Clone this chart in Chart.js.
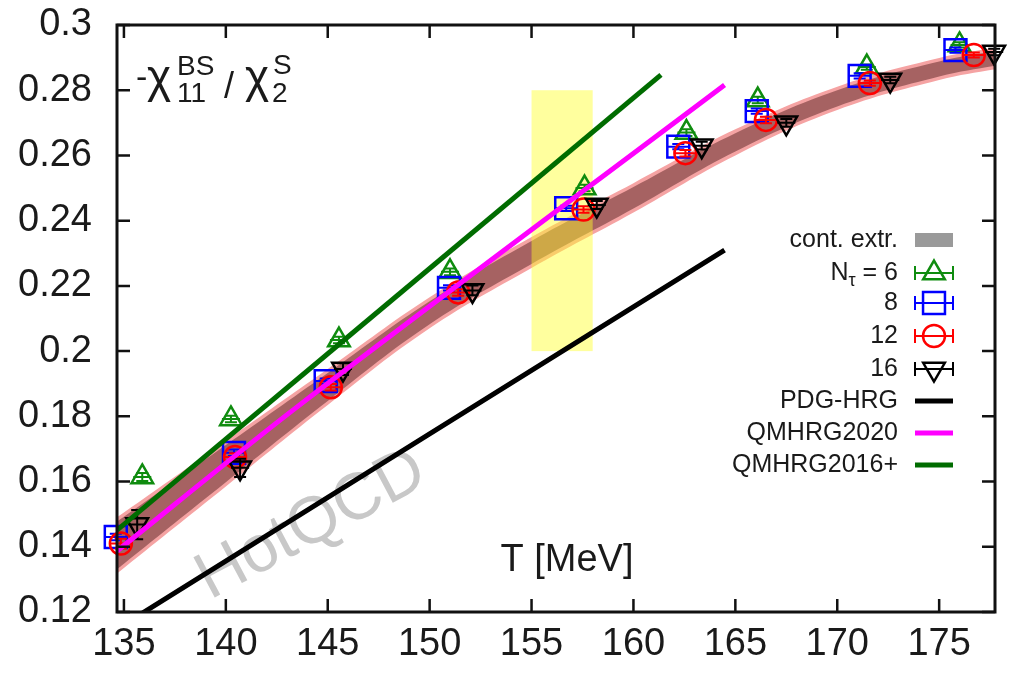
<!DOCTYPE html>
<html lang="en">
<head>
<meta charset="UTF-8">
<title>Baryon-strangeness correlation ratio</title>
<script src="https://cdn.jsdelivr.net/npm/chart.js"></script>
<style>
  html, body { margin: 0; padding: 0; background: #fff; }
  #wrap { width: 1013px; height: 673px; }
</style>
</head>
<body>
<div id="wrap"><canvas id="ratioChart" width="1013" height="673"></canvas></div>
<script>
// lattice results, T in MeV
const nt6T   = [135.9, 140.25, 145.55, 151.0, 157.6, 162.6, 166.1, 171.45, 176.0];
const nt6Y   = [0.1614, 0.1792, 0.2034, 0.2243, 0.2500, 0.2670, 0.2770, 0.2871, 0.2939];
const nt6Err = [0.0012, 0.0010, 0.0010, 0.0010, 0.0010, 0.0010, 0.0010, 0.0008, 0.0008];

const nt8T   = [134.6, 140.4, 144.9, 150.95, 156.7, 162.2, 166.05, 171.1, 175.8];
const nt8Y   = [0.1430, 0.1688, 0.1908, 0.2194, 0.2438, 0.2627, 0.2736, 0.2844, 0.2923];
const nt8Err = [0.0010, 0.0010, 0.0008, 0.0008, 0.0008, 0.0008, 0.0008, 0.0008, 0.0008];

const nt12T   = [134.85, 140.45, 145.15, 151.4, 157.55, 162.55, 166.5, 171.6, 176.7];
const nt12Y   = [0.1410, 0.1675, 0.1889, 0.2180, 0.2434, 0.2607, 0.2709, 0.2822, 0.2908];
const nt12Err = [0.0015, 0.0012, 0.0010, 0.0010, 0.0010, 0.0010, 0.0010, 0.0008, 0.0008];

const nt16T   = [135.65, 140.7, 145.75, 152.1, 158.2, 163.35, 167.5, 172.6, 177.7];
const nt16Y   = [0.1468, 0.1642, 0.1945, 0.2186, 0.2448, 0.2630, 0.2700, 0.2831, 0.2917];
const nt16Err = [0.0045, 0.0028, 0.0018, 0.0015, 0.0012, 0.0012, 0.0012, 0.0010, 0.0010];

// continuum extrapolation band (outer and inner edges)
const bandT       = [134, 135, 140, 145, 150, 155, 160, 165, 170, 175, 178];
const bandOuterHi = [0.1463, 0.1505, 0.1725, 0.1945, 0.2165, 0.2350, 0.2515, 0.2680, 0.2811, 0.2899, 0.2933];
const bandOuterLo = [0.1283, 0.1335, 0.1585, 0.1835, 0.2070, 0.2255, 0.2425, 0.2600, 0.2739, 0.2831, 0.2867];
const bandInnerHi = [0.1450, 0.1492, 0.1712, 0.1933, 0.2153, 0.2338, 0.2503, 0.2668, 0.2800, 0.2888, 0.2922];
const bandInnerLo = [0.1296, 0.1348, 0.1598, 0.1847, 0.2082, 0.2267, 0.2437, 0.2612, 0.2750, 0.2842, 0.2878];

// hadron resonance gas curves
const pdgT  = [134.66, 164.47];
const pdgY  = [0.1148, 0.2310];
const qm20T = [134.66, 143.5, 164.47];
const qm20Y = [0.1387, 0.1829, 0.2816];
const qm16T = [134.66, 161.35];
const qm16Y = [0.1451, 0.2847];

// pseudo-critical region
const tcRangeT = [155, 158];
const tcRangeY = [0.2, 0.28];

const xTicks = [135, 140, 145, 150, 155, 160, 165, 170, 175];
const yTicks = [0.12, 0.14, 0.16, 0.18, 0.2, 0.22, 0.24, 0.26, 0.28, 0.3];

const legendNames = ['cont. extr.', 'N|τ| = 6', '8', '12', '16', 'PDG-HRG', 'QMHRG2020', 'QMHRG2016+'];

const FONT = '"Liberation Sans", Arial, Helvetica, sans-serif';
const GREEN_PT = '#0f8c0f';
const GREEN_LN = '#006c00';

const pts = (xs, ys) => xs.map((x, i) => ({ x: x, y: ys[i] }));

function pointSet(label, xs, ys, errs, color, style, radius, rotation, order) {
    return {
        label: label, data: pts(xs, ys), errors: errs, showLine: false,
        pointStyle: style, pointRadius: radius, pointRotation: rotation || 0,
        pointBorderColor: color, pointBackgroundColor: 'rgba(0,0,0,0)',
        pointBorderWidth: 2.5, borderColor: color, clip: false, order: order
    };
}

function curveSet(label, xs, ys, color, order) {
    return {
        label: label, data: pts(xs, ys), borderColor: color, borderWidth: 5,
        pointRadius: 0, fill: false, tension: 0.3, order: order
    };
}

function edgeSet(xs, ys, fill, color, order) {
    return {
        data: pts(xs, ys), borderWidth: 0, borderColor: 'rgba(0,0,0,0)', pointRadius: 0,
        fill: fill, backgroundColor: color, tension: 0.4, order: order
    };
}

const datasets = [
    edgeSet(bandT, bandOuterHi, false, 'rgba(0,0,0,0)', 20),
    edgeSet(bandT, bandOuterLo, '-1', '#f5a3a3', 20),
    edgeSet(bandT, bandInnerHi, false, 'rgba(0,0,0,0)', 19),
    edgeSet(bandT, bandInnerLo, '-1', '#a66262', 19),
    pointSet('Nt6', nt6T, nt6Y, nt6Err, GREEN_PT, 'triangle', 12.5, 0, 9),
    pointSet('Nt8', nt8T, nt8Y, nt8Err, '#0000ff', 'rect', 15.5, 0, 8),
    pointSet('Nt12', nt12T, nt12Y, nt12Err, '#ff0000', 'circle', 11, 0, 7),
    pointSet('Nt16', nt16T, nt16Y, nt16Err, '#000000', 'triangle', 12.5, 180, 6),
    curveSet('PDG-HRG', pdgT, pdgY, '#000000', 4),
    curveSet('QMHRG2020', qm20T, qm20Y, '#ff00ff', 3),
    curveSet('QMHRG2016+', qm16T, qm16Y, GREEN_LN, 2)
];

// yellow T_c box, drawn over the band but under the points
const tcBoxPlugin = {
    id: 'tcBox',
    beforeDatasetDraw(chart, args) {
        if (chart.data.datasets[args.index].label !== 'Nt6') return;
        const { ctx, scales: { x, y } } = chart;
        const x0 = x.getPixelForValue(tcRangeT[0]), x1 = x.getPixelForValue(tcRangeT[1]);
        const y0 = y.getPixelForValue(tcRangeY[1]), y1 = y.getPixelForValue(tcRangeY[0]);
        ctx.save();
        ctx.fillStyle = 'rgba(255, 255, 40, 0.45)';
        ctx.fillRect(x0, y0, x1 - x0, y1 - y0);
        ctx.restore();
    }
};

// vertical error bars plus the short horizontal bar through each symbol
const errorBarPlugin = {
    id: 'errorBars',
    afterDatasetDraw(chart, args) {
        const ds = chart.data.datasets[args.index];
        if (!ds.errors) return;
        const { ctx, scales: { x, y } } = chart;
        const half = ds.pointStyle === 'triangle' ? 9 : 11;
        ctx.save();
        ctx.strokeStyle = ds.borderColor;
        ctx.lineWidth = 2;
        ds.data.forEach((p, i) => {
            const px = x.getPixelForValue(p.x);
            const py = y.getPixelForValue(p.y);
            const top = y.getPixelForValue(p.y + ds.errors[i]);
            const bot = y.getPixelForValue(p.y - ds.errors[i]);
            ctx.beginPath();
            ctx.moveTo(px, top); ctx.lineTo(px, bot);
            ctx.moveTo(px - 6, top); ctx.lineTo(px + 6, top);
            ctx.moveTo(px - 6, bot); ctx.lineTo(px + 6, bot);
            ctx.moveTo(px - half, py); ctx.lineTo(px + half, py);
            ctx.stroke();
        });
        ctx.restore();
    }
};

// watermark and axis texts inside the frame
const labelsPlugin = {
    id: 'labels',
    beforeDatasetsDraw(chart) {
        const ctx = chart.ctx;
        ctx.save();
        ctx.translate(210, 600);
        ctx.rotate(-28 * Math.PI / 180);
        ctx.fillStyle = '#c8c8c8';
        ctx.font = '66px ' + FONT;
        ctx.textBaseline = 'alphabetic';
        ctx.fillText('HotQCD', 0, 0);
        ctx.restore();

        ctx.save();
        ctx.fillStyle = '#1a1a1a';
        ctx.font = '38px ' + FONT;
        ctx.textAlign = 'center';
        ctx.textBaseline = 'alphabetic';
        ctx.fillText('T [MeV]', 567, 571);
        ctx.restore();
    },
    afterDraw(chart) {
        const ctx = chart.ctx;
        ctx.save();
        ctx.fillStyle = '#1a1a1a';
        ctx.textBaseline = 'alphabetic';
        ctx.textAlign = 'left';
        ctx.font = '34px ' + FONT;
        ctx.fillText('-', 136, 88);
        ctx.font = '46px ' + FONT;
        ctx.fillText('χ', 147, 92);
        ctx.font = '28px ' + FONT;
        ctx.fillText('BS', 177, 75);
        ctx.fillText('11', 177, 102);
        ctx.font = '36px ' + FONT;
        ctx.fillText('/', 224, 98);
        ctx.font = '46px ' + FONT;
        ctx.fillText('χ', 245, 92);
        ctx.font = '28px ' + FONT;
        ctx.fillText('S', 273, 74);
        ctx.fillText('2', 272, 102);
        ctx.restore();
    }
};

// gnuplot style frame with inward ticks on all four sides
const framePlugin = {
    id: 'frame',
    afterDraw(chart) {
        const { ctx, chartArea: a, scales: { x, y } } = chart;
        ctx.save();
        ctx.strokeStyle = '#111';
        ctx.lineWidth = 3;
        ctx.strokeRect(a.left, a.top, a.right - a.left, a.bottom - a.top);
        ctx.lineWidth = 2.5;
        ctx.beginPath();
        xTicks.forEach(v => {
            const px = x.getPixelForValue(v);
            ctx.moveTo(px, a.bottom); ctx.lineTo(px, a.bottom - 13);
            ctx.moveTo(px, a.top); ctx.lineTo(px, a.top + 13);
        });
        yTicks.forEach(v => {
            const py = y.getPixelForValue(v);
            ctx.moveTo(a.left, py); ctx.lineTo(a.left + 13, py);
            ctx.moveTo(a.right, py); ctx.lineTo(a.right - 13, py);
        });
        ctx.stroke();
        ctx.restore();
    }
};

// key on the right: text right-aligned, sample to its right
const keyPlugin = {
    id: 'key',
    afterDraw(chart) {
        const ctx = chart.ctx;
        const rowY = [240, 273, 303, 336, 369, 401, 433, 465];
        const textRight = 898, s0 = 915, s1 = 953, sc = 934;
        const pointSets = chart.data.datasets.filter(d => d.errors);
        const lineSets = chart.data.datasets.filter(d => d.borderWidth === 5);
        ctx.save();
        ctx.fillStyle = '#1a1a1a';
        ctx.textBaseline = 'middle';
        legendNames.forEach((name, i) => {
            const yy = rowY[i];
            // "N|τ| = 6": the part between bars is a subscript
            const parts = name.split('|');
            if (parts.length === 3) {
                ctx.font = '25px ' + FONT;
                const w0 = ctx.measureText(parts[0]).width;
                const w2 = ctx.measureText(parts[2]).width;
                ctx.font = '18px ' + FONT;
                const w1 = ctx.measureText(parts[1]).width;
                const xx = textRight - w0 - w1 - w2;
                ctx.textAlign = 'left';
                ctx.font = '25px ' + FONT;
                ctx.fillText(parts[0], xx, yy);
                ctx.font = '18px ' + FONT;
                ctx.fillText(parts[1], xx + w0, yy + 8);
                ctx.font = '25px ' + FONT;
                ctx.fillText(parts[2], xx + w0 + w1, yy);
            } else {
                ctx.textAlign = 'right';
                ctx.font = '25px ' + FONT;
                ctx.fillText(name, textRight, yy);
            }
        });
        // band sample
        ctx.fillStyle = '#9a9a9a';
        ctx.fillRect(s0, rowY[0] - 7, s1 - s0, 14);
        // symbol samples, hollow like in the plot
        ctx.fillStyle = 'rgba(0,0,0,0)';
        pointSets.forEach((ds, k) => {
            const yy = rowY[1 + k];
            ctx.strokeStyle = ds.borderColor;
            ctx.lineWidth = 2;
            ctx.beginPath();
            ctx.moveTo(s0, yy); ctx.lineTo(s1, yy);
            ctx.moveTo(s0, yy - 7); ctx.lineTo(s0, yy + 7);
            ctx.moveTo(s1, yy - 7); ctx.lineTo(s1, yy + 7);
            ctx.stroke();
            ctx.lineWidth = 2.5;
            Chart.helpers.drawPoint(ctx, {
                pointStyle: ds.pointStyle, radius: ds.pointRadius, rotation: ds.pointRotation,
                borderWidth: 2.5
            }, sc, yy);
        });
        // line samples
        lineSets.forEach((ds, k) => {
            const yy = rowY[5 + k];
            ctx.strokeStyle = ds.borderColor;
            ctx.lineWidth = 5;
            ctx.beginPath();
            ctx.moveTo(s0, yy); ctx.lineTo(s1, yy);
            ctx.stroke();
        });
        ctx.restore();
    }
};

const tickFont = { family: FONT, size: 38 };

// keep the plot frame exactly where the layout puts it
function noScalePadding(s) {
    s.paddingTop = 0; s.paddingBottom = 0; s.paddingLeft = 0; s.paddingRight = 0;
}

new Chart(document.getElementById('ratioChart'), {
    type: 'line',
    data: { datasets: datasets },
    options: {
        responsive: false,
        animation: false,
        layout: { padding: { top: 25, right: 0, left: 0, bottom: 0 } },
        plugins: { legend: { display: false }, tooltip: { enabled: false } },
        scales: {
            x: {
                type: 'linear', min: 134.66, max: 177.74,
                afterFit: s => { s.height = 61; noScalePadding(s); },
                afterBuildTicks: s => { s.ticks = xTicks.map(v => ({ value: v })); },
                ticks: { font: tickFont, color: '#1a1a1a', padding: 10, maxRotation: 0, autoSkip: false,
                         callback: v => String(v) },
                grid: { display: false, drawTicks: false, tickLength: 0 },
                border: { display: false }
            },
            y: {
                type: 'linear', min: 0.12, max: 0.3,
                afterFit: s => { s.width = 117; noScalePadding(s); },
                afterBuildTicks: s => { s.ticks = yTicks.map(v => ({ value: v })); },
                ticks: { font: tickFont, color: '#1a1a1a', padding: 25, autoSkip: false,
                         callback: v => String(+v.toFixed(2)) },
                grid: { display: false, drawTicks: false, tickLength: 0 },
                border: { display: false }
            }
        }
    },
    plugins: [tcBoxPlugin, errorBarPlugin, labelsPlugin, framePlugin, keyPlugin]
});
</script>
</body>
</html>
